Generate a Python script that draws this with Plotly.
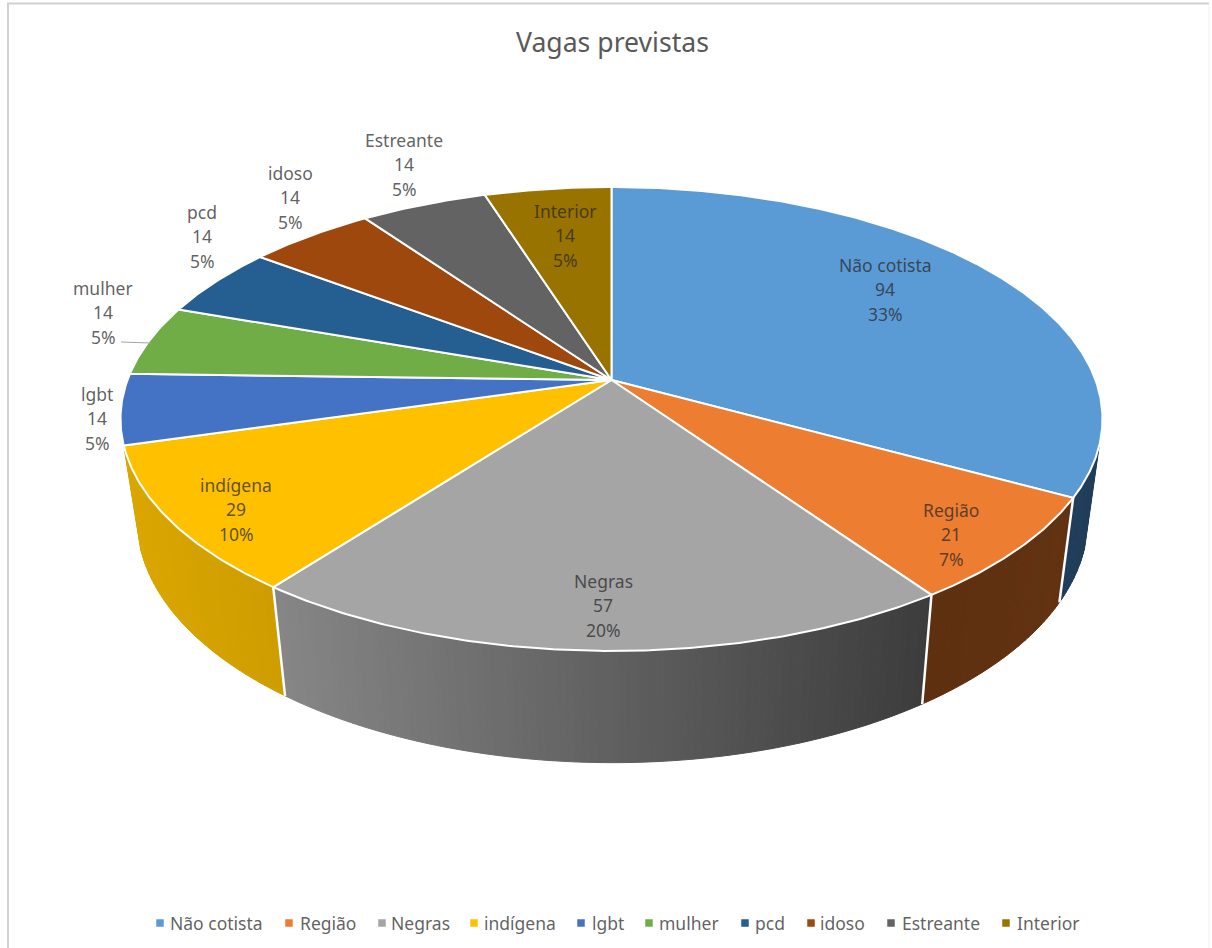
import math
import plotly.graph_objects as go

# ---------- data ----------
categories = ["Não cotista", "Região", "Negras", "indígena", "lgbt",
              "mulher", "pcd", "idoso", "Estreante", "Interior"]
values = [94, 21, 57, 29, 14, 14, 14, 14, 14, 14]
title_text = "Vagas previstas"

# ---------- style ----------
top_colors = ["#5b9bd5", "#ed7d31", "#a5a5a5", "#ffc000", "#4472c4",
              "#70ad47", "#255e91", "#9e480e", "#636363", "#997300"]
# wall colours: (colour at the left of the wall, colour at the right)
wall_colors = {0: ((32, 62, 90), (32, 62, 90)),
               1: ((94, 48, 16), (98, 50, 17)),
               2: ((134, 134, 134), (60, 60, 60)),
               3: ((218, 166, 0), (206, 157, 0))}
label_centers = [(885, 289), (951, 534), (603, 605), (236, 509), (97, 418),
                 (103, 312), (202, 236), (290, 197), (404, 164), (565, 235)]
legend_marker_x = [160, 289, 382, 474, 581, 649, 745, 811, 891, 1006]
legend_text_x = [170, 300, 391, 484, 592, 659, 755, 820, 902, 1017]
TEXT = "rgba(40,40,40,0.74)"
FONT = "Noto Sans, Open Sans, sans-serif"
LINE_STEP = 24.5
W, H = 1212, 948

# perspective model of the two faces of the disc
K = 0.168
CX, CY, A, B = 611.5, 380, 484, 225.4     # top face
CX2, CY2, A2, B2 = 612.5, 479, 468.5, 236  # bottom face
WALL_START = math.radians(106.0)
WALL_END = math.radians(254.0)


def top(theta, r=1.0):
    u, v = r * math.sin(theta), r * math.cos(theta)
    d = 1 + K * v
    return CX + A * u / d, CY - B * v / d


def bottom(theta):
    u, v = math.sin(theta), math.cos(theta)
    d = 1 + K * v
    return CX2 + A2 * u / d, CY2 - B2 * v / d


def arc(f, a0, a1, step=math.radians(0.5)):
    n = max(1, int(abs(a1 - a0) / step))
    return [f(a0 + (a1 - a0) * i / n) for i in range(n + 1)]


def poly(points, fill, line, width):
    xs = [p[0] for p in points] + [points[0][0]]
    ys = [p[1] for p in points] + [points[0][1]]
    return go.Scatter(x=xs, y=ys, mode="lines", fill="toself", fillcolor=fill,
                      line=dict(color=line, width=width), hoverinfo="skip",
                      showlegend=False)


total = sum(values)
edges = [0.0]
for val in values:
    edges.append(edges[-1] + val / total * 2 * math.pi)

fig = go.Figure()

# side walls, built as narrow strips so the shading can vary along the wall
for idx, (left_col, right_col) in wall_colors.items():
    a0 = max(edges[idx], WALL_START)
    a1 = min(edges[idx + 1], WALL_END)
    xl, xr = top(a1)[0], top(a0)[0]
    n = max(1, int((a1 - a0) / math.radians(0.75)))
    for i in range(n):
        s0 = a0 + (a1 - a0) * i / n
        s1 = a0 + (a1 - a0) * (i + 1) / n
        pts = arc(top, s0, s1) + arc(bottom, s1, s0)
        t = (top((s0 + s1) / 2)[0] - xl) / (xr - xl)
        rgb = [round(left_col[c] + (right_col[c] - left_col[c]) * t) for c in range(3)]
        col = f"rgb({rgb[0]},{rgb[1]},{rgb[2]})"
        fig.add_trace(poly(pts, col, col, 1))

# white separators between the walls
for idx in range(1, 4):
    a = edges[idx]
    p, q = top(a), bottom(a)
    fig.add_trace(go.Scatter(x=[p[0], q[0]], y=[p[1], q[1]], mode="lines",
                             line=dict(color="white", width=2.5),
                             hoverinfo="skip", showlegend=False))

# top face
for idx in range(len(values)):
    pts = [(CX, CY)] + arc(top, edges[idx], edges[idx + 1])
    fig.add_trace(poly(pts, top_colors[idx], "white", 2))

# leader line of the "mulher" label
fig.add_trace(go.Scatter(x=[121, 151], y=[342, 343], mode="lines",
                         line=dict(color="#a6a6a6", width=1.2),
                         hoverinfo="skip", showlegend=False))

# data labels: three separate lines for an exact line spacing
for name, val, (lx, ly) in zip(categories, values, label_centers):
    lines = [name, str(val), f"{round(val / total * 100)}%"]
    for j, line in enumerate(lines):
        fig.add_annotation(x=lx, y=ly + (j - 1) * LINE_STEP, xref="x", yref="y",
                           showarrow=False, xanchor="center", yanchor="middle",
                           text=line,
                           font=dict(family=FONT, size=17.5, color=TEXT))

# legend row
for name, col, mx, tx in zip(categories, top_colors, legend_marker_x, legend_text_x):
    fig.add_trace(go.Scatter(x=[mx], y=[923], mode="markers", name=name,
                             marker=dict(symbol="square", size=7.5, color=col),
                             hoverinfo="skip", showlegend=False))
    fig.add_annotation(x=tx, y=923, xref="x", yref="y", showarrow=False,
                       xanchor="left", yanchor="middle", text=name, xshift=-2,
                       font=dict(family=FONT, size=17.5, color=TEXT))

# title
fig.add_annotation(x=612, y=42, xref="x", yref="y", showarrow=False,
                   xanchor="center", yanchor="middle", text=title_text,
                   font=dict(family=FONT, size=26.6, color="#595959"))

# chart frame: top and left edges are visible, the right one only faintly
fig.add_shape(type="line", x0=7, y0=3.5, x1=1209, y1=3.5, xref="x", yref="y",
              line=dict(color="#d0d0d0", width=2), layer="below")
fig.add_shape(type="line", x0=8, y0=3, x1=8, y1=948, xref="x", yref="y",
              line=dict(color="#d0d0d0", width=2), layer="below")
fig.add_shape(type="line", x0=1209, y0=3, x1=1209, y1=948, xref="x", yref="y",
              line=dict(color="#f0f0f0", width=1), layer="below")

fig.update_layout(
    width=W, height=H, autosize=False, margin=dict(l=0, r=0, t=0, b=0),
    paper_bgcolor="white", plot_bgcolor="white", showlegend=False,
    xaxis=dict(range=[0, W], visible=False, fixedrange=True),
    yaxis=dict(range=[H, 0], visible=False, fixedrange=True),
)
fig.write_html("out.html", config={"displayModeBar": False},
               post_script="document.body.style.margin='0';document.documentElement.style.overflow='hidden';")
